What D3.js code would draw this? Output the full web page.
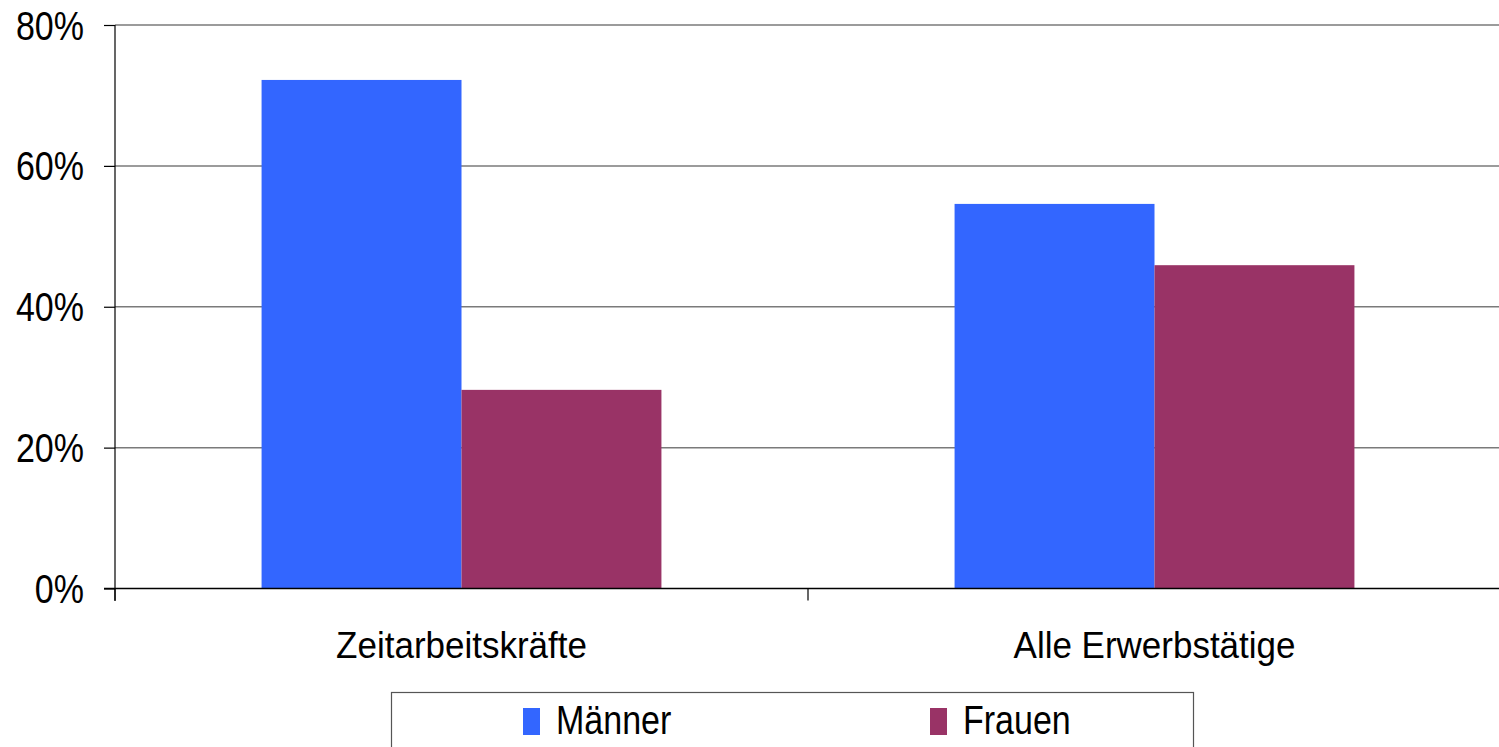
<!DOCTYPE html>
<html>
<head>
<meta charset="utf-8">
<script src="https://cdn.jsdelivr.net/npm/d3@7"></script>
<style>
  html, body { margin: 0; padding: 0; background: #fff; }
  svg { display: block; font-family: "Liberation Sans", Arial, sans-serif; }
</style>
</head>
<body>
<svg id="chart" width="1499" height="747"></svg>
<script>
// Anteil von Männern und Frauen
const categories = ["Zeitarbeitskräfte", "Alle Erwerbstätige"];
const seriesNames = ["Männer", "Frauen"];
const maenner = [72.2, 54.6];
const frauen = [28.2, 45.9];
const yTicks = [0, 20, 40, 60, 80];
const colors = ["#3366FF", "#993366"];

const rows = categories.map((c, i) => ({ category: c, values: [maenner[i], frauen[i]] }));

const svg = d3.select("#chart");
const plotLeft = 115, plotRight = 1501, plotTop = 25, plotBottom = 588.5;

const x0 = d3.scaleBand().domain(categories).range([plotLeft, plotRight]).padding(0);
const bw = x0.bandwidth();
const groupW = bw * 0.577;
const x1 = d3.scaleBand().domain(seriesNames).range([(bw - groupW) / 2, (bw + groupW) / 2]).padding(0);
const y = d3.scaleLinear().domain([0, 80]).range([plotBottom, plotTop]);

// Gridlines
svg.append("g")
  .selectAll("line")
  .data(yTicks.filter(t => t > 0))
  .join("line")
  .attr("x1", plotLeft).attr("x2", 1499)
  .attr("y1", d => y(d)).attr("y2", d => y(d))
  .attr("stroke", "#7a7a7a")
  .attr("stroke-width", 1.5);

// Bars
const groups = svg.append("g")
  .selectAll("g")
  .data(rows)
  .join("g")
  .attr("transform", d => `translate(${x0(d.category)},0)`);

groups.selectAll("rect")
  .data(d => d.values.map((v, i) => ({ name: seriesNames[i], value: v, i })))
  .join("rect")
  .attr("x", d => x1(d.name))
  .attr("width", x1.bandwidth())
  .attr("y", d => y(d.value))
  .attr("height", d => y(0) - y(d.value))
  .attr("fill", d => colors[d.i]);

// Y axis
const yAxis = d3.axisLeft(y)
  .tickValues(yTicks)
  .tickFormat(d => d + "%")
  .tickSize(11)
  .tickPadding(0);

const gy = svg.append("g")
  .attr("transform", `translate(${plotLeft},0)`)
  .call(yAxis);
gy.select(".domain").remove();
gy.selectAll(".tick line").attr("stroke", "#000").attr("stroke-width", 1.2);
gy.selectAll(".tick text")
  .attr("x", null)
  .attr("dy", null)
  .attr("fill", "#000")
  .attr("font-size", 34)
  .attr("text-anchor", "end")
  .attr("transform", "translate(-31,14) scale(1,1.17)");
gy.append("line")
  .attr("x1", 0).attr("x2", 0)
  .attr("y1", plotTop).attr("y2", 601)
  .attr("stroke", "#000").attr("stroke-width", 1.2);

// X axis
const gx = svg.append("g")
  .attr("transform", `translate(0,${plotBottom})`);
gx.append("line")
  .attr("x1", 104).attr("x2", 1499)
  .attr("y1", 0).attr("y2", 0)
  .attr("stroke", "#000").attr("stroke-width", 1.6);
gx.selectAll("line.tick")
  .data(categories.map(c => x0(c)).concat([plotRight]))
  .join("line")
  .attr("class", "tick")
  .attr("x1", d => d).attr("x2", d => d)
  .attr("y1", 0).attr("y2", 12)
  .attr("stroke", "#000").attr("stroke-width", 1.2);
gx.selectAll("text")
  .data(categories)
  .join("text")
  .attr("text-anchor", "middle")
  .attr("font-size", 35)
  .attr("fill", "#000")
  .attr("transform", d => `translate(${x0(d) + bw / 2},${658 - plotBottom}) scale(1,1.04)`)
  .text(d => d);

// Legend
const legend = svg.append("g");
legend.append("rect")
  .attr("x", 391.5).attr("y", 692.5)
  .attr("width", 802).attr("height", 70)
  .attr("fill", "#fff")
  .attr("stroke", "#555").attr("stroke-width", 1.2);
const legendX = [523, 930];
const items = legend.selectAll("g")
  .data(seriesNames)
  .join("g")
  .attr("transform", (d, i) => `translate(${legendX[i]},0)`);
items.append("rect")
  .attr("x", 0).attr("y", 708)
  .attr("width", 17).attr("height", 27)
  .attr("fill", (d, i) => colors[i]);
items.append("text")
  .attr("font-size", 34)
  .attr("fill", "#000")
  .attr("transform", "translate(33,734) scale(1,1.17)")
  .text(d => d);
</script>
</body>
</html>
